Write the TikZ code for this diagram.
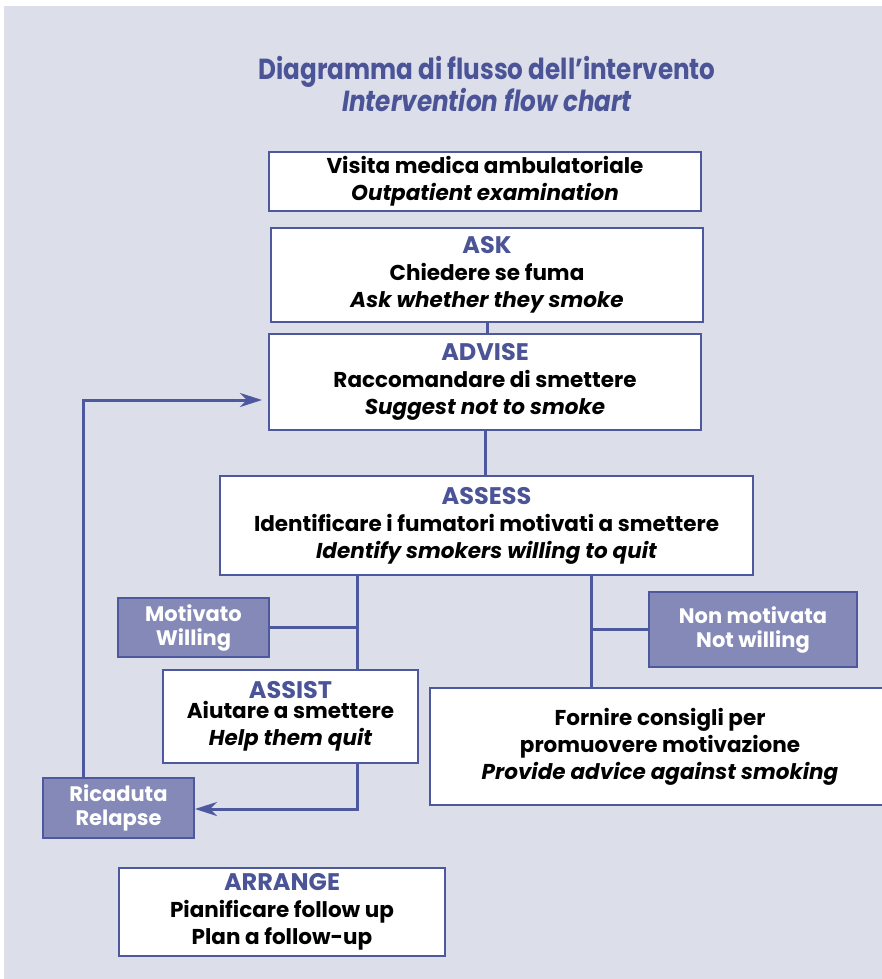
\documentclass[tikz,border=0pt]{standalone}
\usepackage{fontspec}
\setmainfont{Poppins}
\newfontfamily\titlefont{Poppins}[FakeStretch=0.85]
\usetikzlibrary{arrows.meta}
\definecolor{bgc}{RGB}{220,222,234}
\definecolor{linec}{RGB}{78,88,158}
\definecolor{fillp}{RGB}{133,137,184}
\definecolor{titc}{RGB}{74,84,151}
\tikzset{
  wbox/.style={draw=linec, line width=1.4pt, fill=white, inner sep=0pt, align=center,
    font=\fontsize{21.5}{27}\selectfont\bfseries},
  pbox/.style={draw=linec, line width=1.4pt, fill=fillp, inner sep=0pt, align=center,
    text=white, font=\fontsize{21}{24}\selectfont\bfseries},
  conn/.style={draw=linec, line width=3pt},
  arr/.style={conn, -{Stealth[length=22pt,width=14pt,inset=7pt]}},
}
\newcommand{\hd}[1]{\textcolor{titc}{\fontsize{24}{27}\selectfont #1}}
\begin{document}
\begin{tikzpicture}[x=1pt,y=-1pt]
\useasboundingbox (0,0) rectangle (882,979);
\fill[bgc] (4,6) rectangle (882,979);
\node[titc, align=center, font=\titlefont\fontsize{29}{30}\selectfont\bfseries] (title) at (487,84)
  {Diagramma di flusso dell’intervento\\\itshape Intervention flow chart};
\node[wbox, minimum width=432pt, minimum height=59pt] (visita) at (485,181.5)
  {Visita medica ambulatoriale\\\itshape Outpatient examination};
\node[wbox, minimum width=432pt, minimum height=94pt] (ask) at (487,275)
  {\hd{ASK}\\Chiedere se fuma\\\itshape Ask whether they smoke};
\node[wbox, minimum width=432pt, minimum height=96pt] (advise) at (485,382)
  {\hd{ADVISE}\\Raccomandare di smettere\\\itshape Suggest not to smoke};
\node[wbox, minimum width=533pt, minimum height=99pt] (assess) at (486.5,525.5)
  {\hd{ASSESS}\\Identificare i fumatori motivati a smettere\\\itshape Identify smokers willing to quit};
\node[pbox, minimum width=151pt, minimum height=59pt] (motiv) at (193.5,627.5)
  {Motivato\\Willing};
\node[wbox, minimum width=255pt, minimum height=93pt] (assist) at (290.5,716.5)
  {\hd{ASSIST}\\[-7pt]Aiutare a smettere\\\itshape Help them quit};
\node[pbox, minimum width=151pt, minimum height=60pt] (ricaduta) at (118.5,808)
  {Ricaduta\\Relapse};
\node[pbox, minimum width=208pt, minimum height=75pt] (nonmot) at (753,629.5)
  {Non motivata\\Not willing};
\node[wbox, minimum width=460pt, minimum height=117pt] (fornire) at (660,746.5)
  {Fornire consigli per\\promuovere motivazione\\\itshape Provide advice against smoking};
\node[wbox, minimum width=326pt, minimum height=88pt] (arrange) at (282,912)
  {\hd{ARRANGE}\\Pianificare follow up\\Plan a follow-up};
% connectors
\draw[conn] (ask.south) -- (ask.south |- advise.north);
\draw[conn] (advise.south) -- (advise.south |- assess.north);
\coordinate (lx) at (357,0);
\coordinate (rx) at (591,0);
\draw[conn] (assess.south -| lx) -- (assist.north -| lx);
\draw[conn] (motiv.east) -- (motiv.east -| lx);
\draw[conn] (assess.south -| rx) -- (fornire.north -| rx);
\draw[conn] (nonmot.west) -- (nonmot.west -| rx);
\coordinate (relin) at (195,809);
\draw[arr] (assist.south -| lx) -- (lx |- relin) -- (relin);
\coordinate (advin) at (262,400);
\draw[arr] (83,778) coordinate (relout) -- (relout |- advin) -- (advin);
\end{tikzpicture}
\end{document}
